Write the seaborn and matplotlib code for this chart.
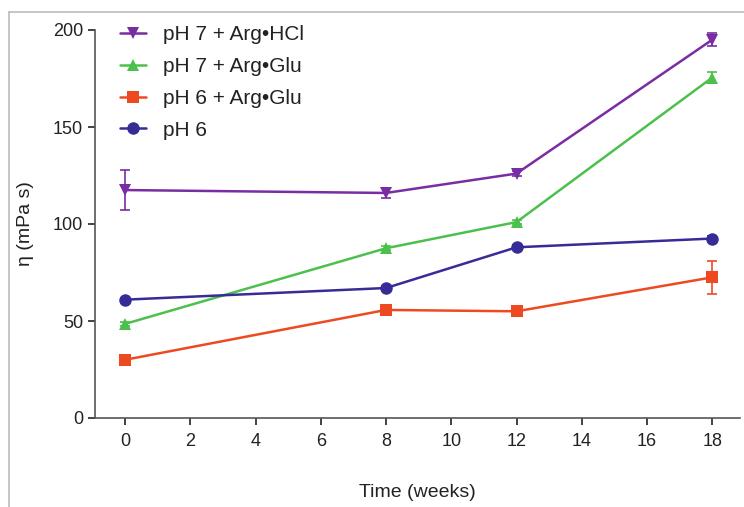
import matplotlib
matplotlib.use("Agg")
import matplotlib.pyplot as plt
import seaborn as sns
import pandas as pd
from matplotlib.lines import Line2D

weeks = [0, 8, 12, 18]
series_names = ["pH 7 + Arg\u2022HCl", "pH 7 + Arg\u2022Glu", "pH 6 + Arg\u2022Glu", "pH 6"]
hcl7 = [117.5, 116, 126, 195]
hcl7_err = [10.5, 2.5, 1.5, 3.5]
glu7 = [48.5, 87.5, 101, 175.5]
glu7_err = [1, 1, 1, 3]
glu6 = [30, 55.7, 55, 72.5]
glu6_err = [1, 1, 1, 8.5]
ph6 = [61, 67, 88, 92.5]
ph6_err = [1, 1, 1, 1.5]

colors = ["#7a2da3", "#4cc04c", "#ee4a22", "#372c97"]
markers = ["v", "^", "s", "o"]

vals = [hcl7, glu7, glu6, ph6]
errs = [hcl7_err, glu7_err, glu6_err, ph6_err]
rows = []
for n, v, e in zip(series_names, vals, errs):
    for w, y, er in zip(weeks, v, e):
        rows.append({"week": w, "eta": y, "err": er, "series": n})
df = pd.DataFrame(rows)

sns.set_style("ticks")
plt.rcParams["font.family"] = ["Liberation Sans", "DejaVu Sans"]

fig = plt.figure(figsize=(7.44, 5.07), dpi=100)
ax = fig.add_axes([95/744, 1-418/507, (740-95)/744, (418-30)/507])

pal = dict(zip(series_names, colors))
mk = dict(zip(series_names, markers))
sns.lineplot(data=df, x="week", y="eta", hue="series", style="series",
             palette=pal, markers=mk, dashes=False, linewidth=1.8,
             markersize=9, markeredgewidth=0, ax=ax, legend=False, errorbar=None)
for n, c in zip(series_names, colors):
    d = df[df.series == n]
    ax.errorbar(d.week, d.eta, yerr=d.err, fmt="none", ecolor=c,
                elinewidth=1.2, capsize=3.8, capthick=1.2, zorder=1)

ax.set_xlim(-0.92, 18.85)
ax.set_ylim(0, 200)
ax.set_xticks(range(0, 19, 2))
ax.set_yticks([0, 50, 100, 150, 200])
ax.tick_params(axis="both", labelsize=13, colors="#222222", length=5, width=1.2)
ax.tick_params(axis="x", pad=6)
for s in ["top", "right"]:
    ax.spines[s].set_visible(False)
for s in ["left", "bottom"]:
    ax.spines[s].set_color("#555555")
    ax.spines[s].set_linewidth(1.2)
ax.set_xlabel("Time (weeks)", fontsize=14, color="#222222", labelpad=24)
ax.set_ylabel("\u03b7 (mPa s)", fontsize=14, color="#222222", labelpad=14)

handles = [Line2D([], [], color=c, marker=m, markersize=9, markeredgewidth=0,
                  linewidth=1.8) for c, m in zip(colors, markers)]
leg = ax.legend(handles, series_names, loc="upper left",
                bbox_to_anchor=(25/645, (418-25)/388), frameon=False, fontsize=15,
                handlelength=1.25, handletextpad=0.8, labelspacing=0.62,
                borderpad=0, borderaxespad=0)
for t in leg.get_texts():
    t.set_color("#222222")

fig.add_artist(Line2D([9/744, 9/744], [0, 1-12/507], color="#bbbbbb", lw=1.2))
fig.add_artist(Line2D([9/744, 1], [1-12/507, 1-12/507], color="#bbbbbb", lw=1.2))

fig.savefig("out.png", dpi=100)
